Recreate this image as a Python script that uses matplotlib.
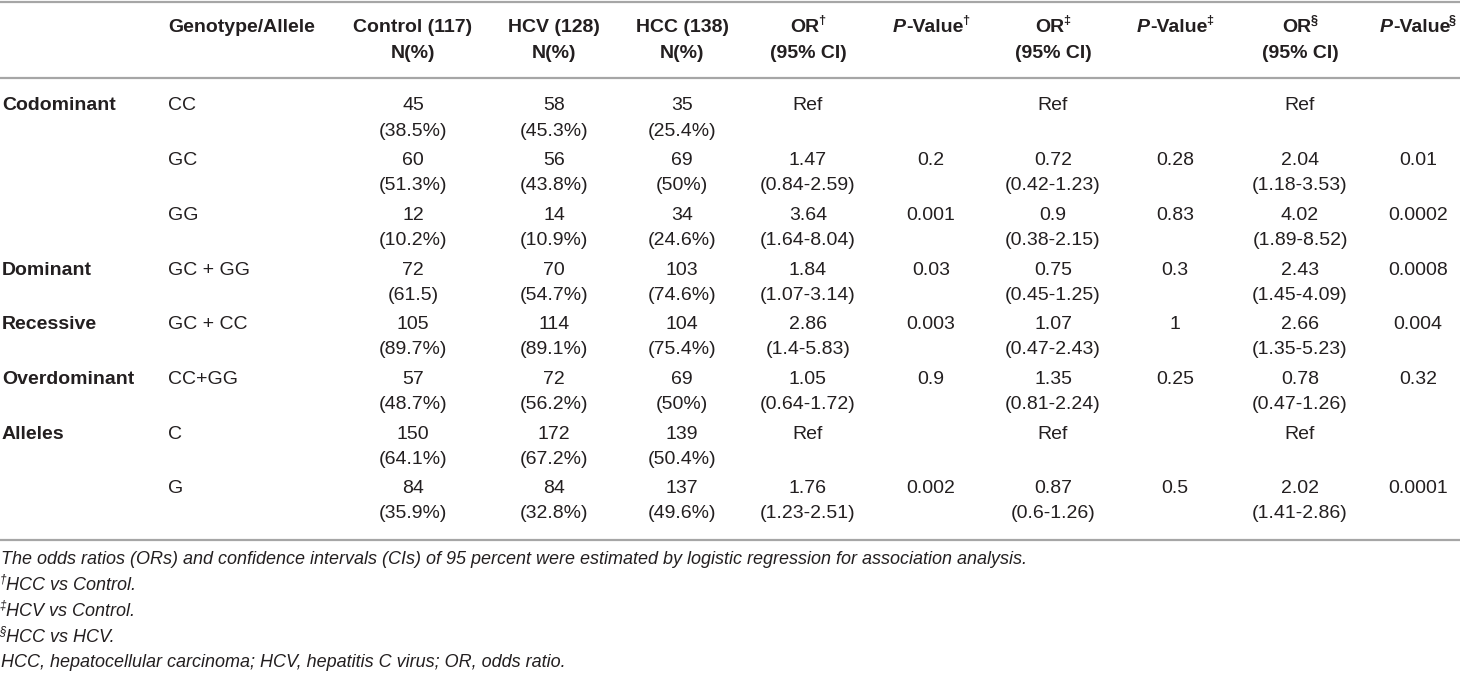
import matplotlib
matplotlib.use("Agg")
import matplotlib.pyplot as plt

plt.rcParams['font.family'] = ['Liberation Sans', 'DejaVu Sans']

# table data
categories = ['Codominant', '', '', 'Dominant', 'Recessive', 'Overdominant', 'Alleles', '']
genotypes = ['CC', 'GC', 'GG', 'GC + GG', 'GC + CC', 'CC+GG', 'C', 'G']
control_n = [45, 60, 12, 72, 105, 57, 150, 84]
control_pct = ['(38.5%)', '(51.3%)', '(10.2%)', '(61.5)', '(89.7%)', '(48.7%)', '(64.1%)', '(35.9%)']
hcv_n = [58, 56, 14, 70, 114, 72, 172, 84]
hcv_pct = ['(45.3%)', '(43.8%)', '(10.9%)', '(54.7%)', '(89.1%)', '(56.2%)', '(67.2%)', '(32.8%)']
hcc_n = [35, 69, 34, 103, 104, 69, 139, 137]
hcc_pct = ['(25.4%)', '(50%)', '(24.6%)', '(74.6%)', '(75.4%)', '(50%)', '(50.4%)', '(49.6%)']
or_1 = ['Ref', '1.47', '3.64', '1.84', '2.86', '1.05', 'Ref', '1.76']
ci_1 = ['', '(0.84-2.59)', '(1.64-8.04)', '(1.07-3.14)', '(1.4-5.83)', '(0.64-1.72)', '', '(1.23-2.51)']
p_1 = ['', '0.2', '0.001', '0.03', '0.003', '0.9', '', '0.002']
or_2 = ['Ref', '0.72', '0.9', '0.75', '1.07', '1.35', 'Ref', '0.87']
ci_2 = ['', '(0.42-1.23)', '(0.38-2.15)', '(0.45-1.25)', '(0.47-2.43)', '(0.81-2.24)', '', '(0.6-1.26)']
p_2 = ['', '0.28', '0.83', '0.3', '1', '0.25', '', '0.5']
or_3 = ['Ref', '2.04', '4.02', '2.43', '2.66', '0.78', 'Ref', '2.02']
ci_3 = ['', '(1.18-3.53)', '(1.89-8.52)', '(1.45-4.09)', '(1.35-5.23)', '(0.47-1.26)', '', '(1.41-2.86)']
p_3 = ['', '0.01', '0.0002', '0.0008', '0.004', '0.32', '', '0.0001']

footnotes = [
    ('', 'The odds ratios (ORs) and confidence intervals (CIs) of 95 percent were estimated by logistic regression for association analysis.'),
    ('\u2020', 'HCC vs Control.'),
    ('\u2021', 'HCV vs Control.'),
    ('\u00a7', 'HCC vs HCV.'),
    ('', 'HCC, hepatocellular carcinoma; HCV, hepatitis C virus; OR, odds ratio.'),
]

W, H = 1460, 674
fig = plt.figure(figsize=(W / 100, H / 100), dpi=100)
ax = fig.add_axes([0, 0, 1, 1])
ax.set_xlim(0, W)
ax.set_ylim(H, 0)
ax.axis('off')

ink = '#231f20'
rule = '#a6a6a6'
fs = 14
fs_note = 13
fig.canvas.draw()
renderer = fig.canvas.get_renderer()


def draw_runs(x, y, parts, ha='center', size=fs):
    # parts: (text, weight, style, superscript)
    widths = []
    artists = []
    for txt, wt, st, sup in parts:
        s = size * 0.65 if sup else size
        t = ax.text(0, 0, txt, fontsize=s, fontweight=wt, fontstyle=st,
                    color=ink, va='center')
        w = t.get_window_extent(renderer).width
        if sup:
            w -= 1.5
        widths.append(w)
        artists.append((t, sup))
    total = sum(widths)
    x0 = x - total / 2 if ha == 'center' else x
    for (t, sup), w in zip(artists, widths):
        if sup:
            t.set_position((x0 - 1.5, y - 6))
        else:
            t.set_position((x0, y))
        t.set_ha('left')
        x0 += w


# column positions
x_cat = 2
x_geno = 168
centers = [413, 554, 682, 808, 931, 1053, 1175, 1300, 1418]

# header
y_h1, y_h2 = 27, 54
draw_runs(x_geno, y_h1, [('Genotype/Allele', 'bold', 'normal', False)], ha='left')
heads = [('Control (117)', 'N(%)'), ('HCV (128)', 'N(%)'), ('HCC (138)', 'N(%)')]
for cx, (a, b) in zip(centers[:3], heads):
    draw_runs(cx, y_h1, [(a, 'bold', 'normal', False)])
    draw_runs(cx, y_h2, [(b, 'bold', 'normal', False)])
marks = ['\u2020', '\u2021', '\u00a7']
for k, m in enumerate(marks):
    cx_or = centers[3 + 2 * k]
    cx_p = centers[4 + 2 * k]
    draw_runs(cx_or, y_h1, [('OR', 'bold', 'normal', False), (m, 'bold', 'normal', True)])
    draw_runs(cx_or, y_h2, [('(95% CI)', 'bold', 'normal', False)])
    draw_runs(cx_p, y_h1, [('P', 'bold', 'italic', False), ('-Value', 'bold', 'normal', False),
                           (m, 'bold', 'normal', True)])

# rules
ax.plot([0, W], [1.5, 1.5], color=rule, lw=1.6)
ax.plot([0, W], [78, 78], color=rule, lw=1.6)
ax.plot([0, W], [540, 540], color=rule, lw=1.6)

# body
row0, row_step, line_step = 106, 54.7, 25
for i in range(len(genotypes)):
    y1 = row0 + i * row_step
    y2 = y1 + line_step
    if categories[i]:
        draw_runs(x_cat, y1, [(categories[i], 'bold', 'normal', False)], ha='left')
    draw_runs(x_geno, y1, [(genotypes[i], 'normal', 'normal', False)], ha='left')
    firsts = [str(control_n[i]), str(hcv_n[i]), str(hcc_n[i]),
              or_1[i], p_1[i], or_2[i], p_2[i], or_3[i], p_3[i]]
    seconds = [control_pct[i], hcv_pct[i], hcc_pct[i],
               ci_1[i], '', ci_2[i], '', ci_3[i], '']
    for cx, a, b in zip(centers, firsts, seconds):
        if a:
            draw_runs(cx, y1, [(a, 'normal', 'normal', False)])
        if b:
            draw_runs(cx, y2, [(b, 'normal', 'normal', False)])

# footnotes
y_note, note_step = 560, 25.7
for j, (m, txt) in enumerate(footnotes):
    parts = []
    if m:
        parts.append((m, 'normal', 'italic', True))
    parts.append((txt, 'normal', 'italic', False))
    draw_runs(1, y_note + j * note_step, parts, ha='left', size=fs_note)

fig.savefig('out.png', dpi=100)
